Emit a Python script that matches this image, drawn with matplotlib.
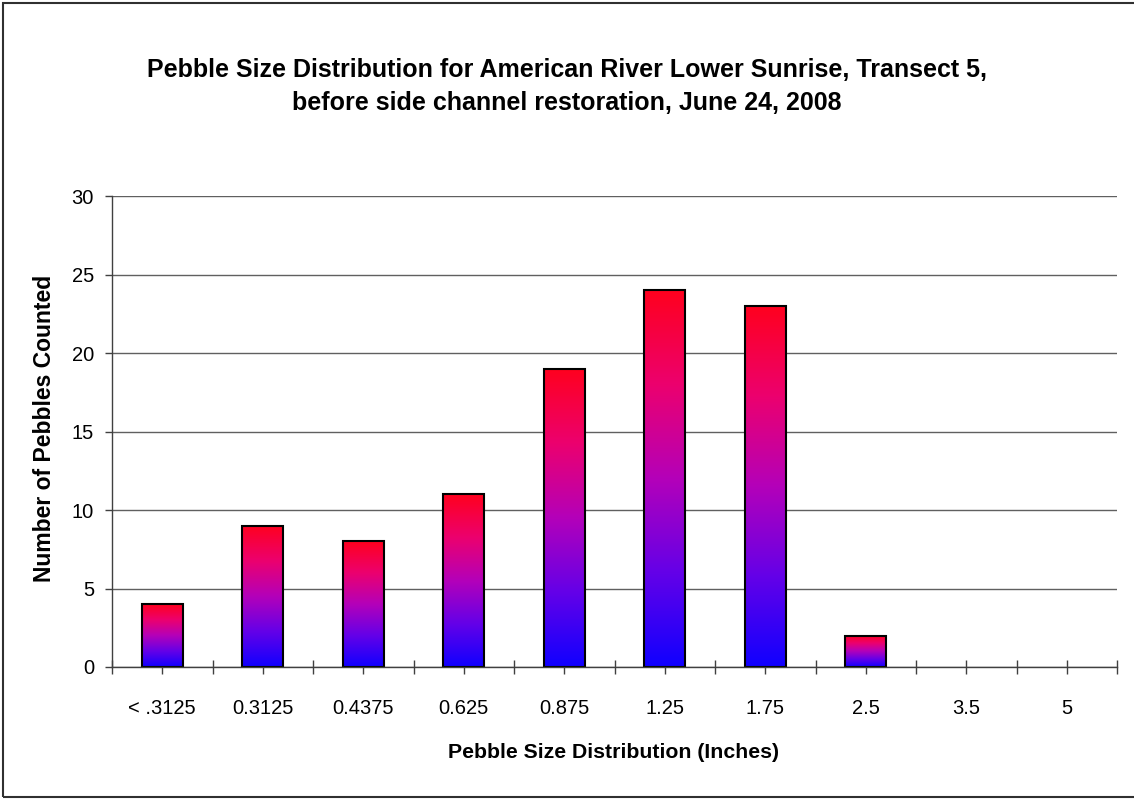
import numpy as np
import matplotlib
matplotlib.use("Agg")
import matplotlib.pyplot as plt
from matplotlib.colors import LinearSegmentedColormap
from matplotlib.patches import Rectangle

plt.rcParams['font.family'] = ['Liberation Sans', 'DejaVu Sans']

# data
sizes = ['< .3125', '0.3125', '0.4375', '0.625', '0.875', '1.25', '1.75', '2.5', '3.5', '5']
counts = [4, 9, 8, 11, 19, 24, 23, 2, 0, 0]

title1 = 'Pebble Size Distribution for American River Lower Sunrise, Transect 5,'
title2 = 'before side channel restoration, June 24, 2008'

# red (top) -> blue (bottom) fill like the excel gradient
grad = LinearSegmentedColormap.from_list('rb', [
    (0.00, (16/255, 0, 1.0)),
    (0.25, (100/255, 0, 232/255)),
    (0.50, (180/255, 0, 185/255)),
    (0.75, (236/255, 0, 110/255)),
    (1.00, (1.0, 0, 30/255)),
])

W, H = 1134, 799
fig = plt.figure(figsize=(W/100, H/100), dpi=100)
ax = fig.add_axes([112/W, 1 - 667/H, (1117 - 112)/W, (667 - 196)/H])

x = np.arange(len(sizes))
bars = ax.bar(x, counts, width=0.41, facecolor='none', edgecolor='black',
              linewidth=1.5, zorder=4)

g = np.linspace(0, 1, 256).reshape(-1, 1)
for b in bars:
    h = b.get_height()
    if h <= 0:
        b.set_visible(False)
        continue
    x0 = b.get_x()
    ax.imshow(g, cmap=grad, origin='lower', aspect='auto',
              extent=(x0, x0 + b.get_width(), 0, h), zorder=3)

ax.set_xlim(-0.5, len(sizes) - 0.5)
ax.set_ylim(0, 30)
ax.set_yticks(range(0, 31, 5))
ax.set_xticks(x)
ax.set_xticklabels(sizes)
ax.set_xticks(np.arange(-0.5, len(sizes), 1.0), minor=True)

ax.yaxis.grid(True, color='#606060', linewidth=1.0, zorder=1)
ax.set_axisbelow(True)
for s in ['top', 'right']:
    ax.spines[s].set_visible(False)
for s in ['left', 'bottom']:
    ax.spines[s].set_color('#404040')
    ax.spines[s].set_linewidth(1.0)
    ax.spines[s].set_zorder(5)

ax.tick_params(axis='y', direction='out', length=5, width=1, color='#404040',
               labelsize=14.5, pad=8)
ax.tick_params(axis='x', which='both', direction='inout', length=10, width=1,
               color='#404040', labelsize=14.5, pad=18)

fig.text(614/W, 1 - 753/H, 'Pebble Size Distribution (Inches)', ha='center',
         va='center', fontsize=15.3, fontweight='bold')
fig.text(45/W, 1 - 428/H, 'Number of Pebbles Counted', ha='center',
         va='center', rotation=90, fontsize=16.5, fontweight='bold')

fig.text(0.5, 1 - 70/H, title1, ha='center', va='center', fontsize=18,
         fontweight='bold')
fig.text(0.5, 1 - 103/H, title2, ha='center', va='center', fontsize=18,
         fontweight='bold')

# chart area border (cut off on the right like the original)
fig.add_artist(Rectangle((3/W, 1 - 797/H), 1.2, 794/H,
                         transform=fig.transFigure, fill=False,
                         edgecolor='#303030', linewidth=1.5))

fig.savefig('out.png', dpi=100)
